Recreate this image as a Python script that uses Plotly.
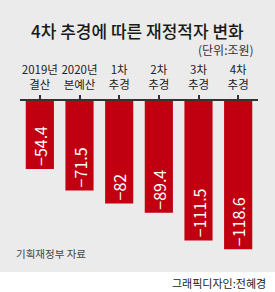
import plotly.graph_objects as go

categories = ["2019년<br>결산", "2020년<br>본예산", "1차<br>추경", "2차<br>추경", "3차<br>추경", "4차<br>추경"]
values = [-54.4, -71.5, -82, -89.4, -111.5, -118.6]
title_text = "4차 추경에 따른 재정적자 변화"
unit_text = "(단위:조원)"
source_text = "기획재정부 자료"
credit_text = "그래픽디자인:전혜경"

bar_labels = [f"{v:g}".replace("-", "\u2212") for v in values]

W, H = 275, 292
L, R, T, B = 20, 17, 101, 29
PW, PH = W - L - R, H - T - B
FONT = "Noto Sans CJK KR"


def xp(px):
    return (px - L) / PW


def yp(py):
    return (H - B - py) / PH


fig = go.Figure(go.Bar(
    x=categories,
    y=values,
    text=bar_labels,
    textposition="inside",
    insidetextanchor="end",
    textangle=-90,
    insidetextfont=dict(color="white", size=16, family=FONT),
    marker=dict(color="#c00010", line=dict(width=0)),
    constraintext="none",
    hoverinfo="skip",
))

fig.update_layout(
    width=W, height=H,
    margin=dict(l=L, r=R, t=T, b=B, pad=0),
    paper_bgcolor="white",
    plot_bgcolor="rgba(0,0,0,0)",
    bargap=0.29,
    showlegend=False,
    font=dict(family=FONT, color="#222"),
    xaxis=dict(
        side="top", showline=True, linecolor="#333", linewidth=2,
        ticks="outside", ticklen=4, tickwidth=1.5, tickcolor="#333",
        tickfont=dict(size=11.5, color="#222", family=FONT),
        tickangle=0, ticklabelstandoff=1,
        range=[-0.5, 5.5], fixedrange=True,
    ),
    yaxis=dict(visible=False, range=[-129.6, 0], fixedrange=True),
    shapes=[dict(
        type="rect", xref="paper", yref="paper",
        x0=xp(0), x1=xp(W), y0=yp(272), y1=yp(0),
        fillcolor="#ebebeb", line=dict(width=0), layer="below",
    )],
    annotations=[
        dict(text=title_text, xref="paper", yref="paper", x=xp(137.5), y=yp(30),
             xanchor="center", yanchor="middle", showarrow=False,
             font=dict(size=17, color="#1a1a1a", family=FONT, weight=500)),
        dict(text=unit_text, xref="paper", yref="paper", x=xp(256), y=yp(50),
             xanchor="right", yanchor="middle", showarrow=False,
             font=dict(size=12, color="#333", family=FONT)),
        dict(text=source_text, xref="paper", yref="paper", x=xp(14), y=yp(253),
             xanchor="left", yanchor="middle", showarrow=False,
             font=dict(size=10.5, color="#444", family=FONT)),
        dict(text=credit_text, xref="paper", yref="paper", x=xp(268), y=yp(283),
             xanchor="right", yanchor="middle", showarrow=False,
             font=dict(size=11, color="#222", family=FONT)),
    ],
)

fig.write_html("out.html")
